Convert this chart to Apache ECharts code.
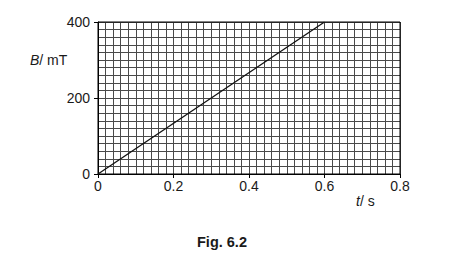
<!DOCTYPE html>
<html>
<head>
<meta charset="utf-8">
<script src="https://cdn.jsdelivr.net/npm/echarts@6/dist/echarts.min.js"></script>
<style>
html,body{margin:0;padding:0;background:#fff;}
#c{width:466px;height:262px;}
</style>
</head>
<body>
<div id="c"></div>
<script>
// Data
var timeS = [0, 0.6];
var fieldMT = [0, 400];
var xTicks = [0, 0.2, 0.4, 0.6, 0.8];
var yTicks = [0, 200, 400];

var chart = echarts.init(document.getElementById('c'), null, {renderer: 'svg'});
var font = 'Liberation Sans, Arial, Helvetica, sans-serif';
var gridColor = '#4a4a4a';
var textColor = '#1a1a1a';

chart.setOption({
  animation: false,
  grid: {left: 98, right: 66, top: 22, bottom: 88, containLabel: false},
  xAxis: {
    type: 'value',
    min: xTicks[0], max: xTicks[xTicks.length - 1], interval: 0.2,
    axisLine: {show: true, onZero: false, lineStyle: {color: '#000', width: 1}},
    axisTick: {show: true, length: 4, inside: false, lineStyle: {color: '#000'}},
    axisLabel: {fontFamily: font, fontSize: 14, color: textColor, margin: 5,
      formatter: function (v) { return v === 0 ? '0' : v.toFixed(1); }},
    splitLine: {show: true, lineStyle: {color: gridColor, width: 1}},
    minorTick: {show: false, splitNumber: 10},
    minorSplitLine: {show: true, lineStyle: {color: gridColor, width: 1}}
  },
  yAxis: {
    type: 'value',
    min: yTicks[0], max: yTicks[yTicks.length - 1], interval: 200,
    axisLine: {show: true, onZero: false, lineStyle: {color: '#000', width: 1}},
    axisTick: {show: true, length: 4, inside: false, lineStyle: {color: '#000'}},
    axisLabel: {fontFamily: font, fontSize: 14, color: textColor, margin: 8},
    splitLine: {show: true, lineStyle: {color: gridColor, width: 1}},
    minorTick: {show: false, splitNumber: 10},
    minorSplitLine: {show: true, lineStyle: {color: gridColor, width: 1}}
  },
  graphic: [
    {type: 'rect', shape: {x: 98, y: 22, width: 302, height: 152}, style: {fill: 'none', stroke: '#000', lineWidth: 1}, z: 10, silent: true},
    {type: 'text', left: 30, top: 53, style: {
      text: '{i|B}/ mT', fill: textColor, font: '14px ' + font,
      rich: {i: {fontStyle: 'italic', fontSize: 14, fontFamily: font, fill: textColor}}}},
    {type: 'text', left: 356, top: 194, style: {
      text: '{i|t}/ s', fill: textColor, font: '14px ' + font,
      rich: {i: {fontStyle: 'italic', fontSize: 14, fontFamily: font, fill: textColor}}}},
    {type: 'text', left: 197, top: 234, style: {
      text: 'Fig. 6.2', fill: textColor, font: 'bold 14.5px ' + font}}
  ],
  series: [{
    type: 'line',
    data: timeS.map(function (t, i) { return [t, fieldMT[i]]; }),
    showSymbol: false,
    lineStyle: {color: '#111', width: 1.3},
    z: 20
  }]
});
</script>
</body>
</html>
